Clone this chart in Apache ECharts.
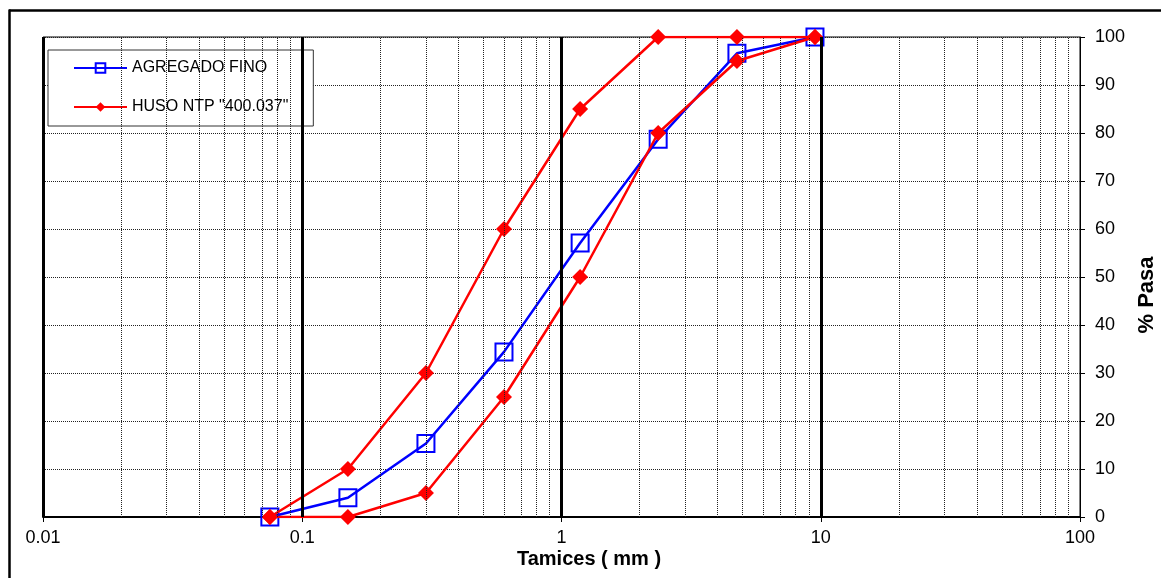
<!DOCTYPE html>
<html>
<head>
<meta charset="utf-8">
<script src="https://cdn.jsdelivr.net/npm/echarts@6/dist/echarts.min.js"></script>
<style>
html,body{margin:0;padding:0;background:#fff;}
#chart{width:1161px;height:578px;}
</style>
</head>
<body>
<div id="chart"></div>
<script>
// ---- data ----
var sieves = [0.075, 0.15, 0.3, 0.6, 1.18, 2.36, 4.75, 9.5];
var agregadoFino = [0, 4.0, 15.3, 34.4, 57.1, 78.7, 96.6, 100];
var husoSuperior = [0, 10, 30, 60, 85, 100, 100, 100];
var husoInferior = [0, 0, 5, 25, 50, 80, 95, 100];
var majorTicks = [0.01, 0.1, 1, 10];
var minorTicks = [0.02,0.03,0.04,0.05,0.06,0.07,0.08,0.09,
                  0.2,0.3,0.4,0.5,0.6,0.7,0.8,0.9,
                  2,3,4,5,6,7,8,9,
                  20,30,40,50,60,70,80,90];
var nameFino = 'AGREGADO FINO';
var nameHuso = 'HUSO NTP "400.037"';

function pairs(xs, ys){ return xs.map(function(x,i){ return [x, ys[i]]; }); }

var FONT = "'Liberation Sans', Arial, sans-serif";
var chart = echarts.init(document.getElementById('chart'), null, {renderer:'canvas'});

var vLines = [];
minorTicks.forEach(function(v){
  vLines.push({xAxis: v, lineStyle:{color:'#222', width:1, type:[1,1]}});
});
majorTicks.forEach(function(v){
  vLines.push({xAxis: v, lineStyle:{color:'#000', width:3, type:'solid'}});
});

var redLine = {color:'#ff0000', width:2.5};
var redItem = {color:'#ff0000'};

chart.setOption({
  animation:false,
  backgroundColor:'#fff',
  textStyle:{fontFamily:FONT},
  grid:{left:43, right:81, top:37, bottom:61, show:true, borderColor:'#000', borderWidth:1, backgroundColor:'#fff'},
  legend:{
    data:[nameFino, nameHuso],
    orient:'vertical', left:48, top:50,
    itemWidth:53, itemHeight:12, itemGap:19,
    padding:[8,25,9,25],
    backgroundColor:'#fff', borderColor:'#333', borderWidth:1,
    textStyle:{fontSize:16, color:'#000', fontFamily:FONT, lineHeight:20},
    selectedMode:false
  },
  xAxis:{
    type:'log', logBase:10, min:0.01, max:100,
    axisLine:{show:true, onZero:false, lineStyle:{color:'#000', width:2}},
    axisTick:{show:true, inside:false, length:5, lineStyle:{color:'#000'}},
    axisLabel:{fontSize:18, color:'#000', margin:12, fontFamily:FONT,
      formatter:function(v){ return String(parseFloat(Number(v).toPrecision(6))); }},
    splitLine:{show:false}, minorTick:{show:false}, minorSplitLine:{show:false}
  },
  yAxis:{
    type:'value', position:'right', min:0, max:100, interval:10,
    axisLine:{show:true, lineStyle:{color:'#000', width:1}},
    axisTick:{show:true, inside:false, length:5, lineStyle:{color:'#000'}},
    axisLabel:{fontSize:18, color:'#000', margin:15, fontFamily:FONT},
    splitLine:{show:true, lineStyle:{color:'#222', width:1, type:[1,1]}}
  },
  series:[
    {
      type:'line', name:'grid-helper', data:[], z:1, silent:true,
      markLine:{silent:true, symbol:['none','none'], label:{show:false}, animation:false,
        emphasis:{disabled:true}, data:vLines}
    },
    {
      type:'line', name:nameFino, data:pairs(sieves, agregadoFino), z:3,
      symbol:'rect', symbolSize:17, showAllSymbol:true,
      lineStyle:{color:'#0000ff', width:2.5},
      itemStyle:{color:'rgba(0,0,0,0)', borderColor:'#0000ff', borderWidth:2}
    },
    {
      type:'line', name:nameHuso, data:pairs(sieves, husoSuperior), z:4,
      symbol:'diamond', symbolSize:16, showAllSymbol:true,
      lineStyle:redLine, itemStyle:redItem
    },
    {
      type:'line', name:nameHuso, data:pairs(sieves, husoInferior), z:4,
      symbol:'diamond', symbolSize:16, showAllSymbol:true,
      lineStyle:redLine, itemStyle:redItem
    }
  ],
  graphic:[
    {type:'line', silent:true, z:100, shape:{x1:9, y1:10.5, x2:1161, y2:10.5},
      style:{stroke:'#000', lineWidth:2.5}},
    {type:'line', silent:true, z:100, shape:{x1:9.5, y1:9.5, x2:9.5, y2:578},
      style:{stroke:'#000', lineWidth:2.5}},
    {type:'text', silent:true, z:100, x:589, y:559,
      style:{text:'Tamices ( mm )', font:"bold 20px "+FONT, fill:'#000', textAlign:'center', textVerticalAlign:'middle'}},
    {type:'text', silent:true, z:100, x:1147, y:295, rotation:Math.PI/2,
      style:{text:'% Pasa', font:"bold 22px "+FONT, fill:'#000', textAlign:'center', textVerticalAlign:'middle'}}
  ]
});
</script>
</body>
</html>
